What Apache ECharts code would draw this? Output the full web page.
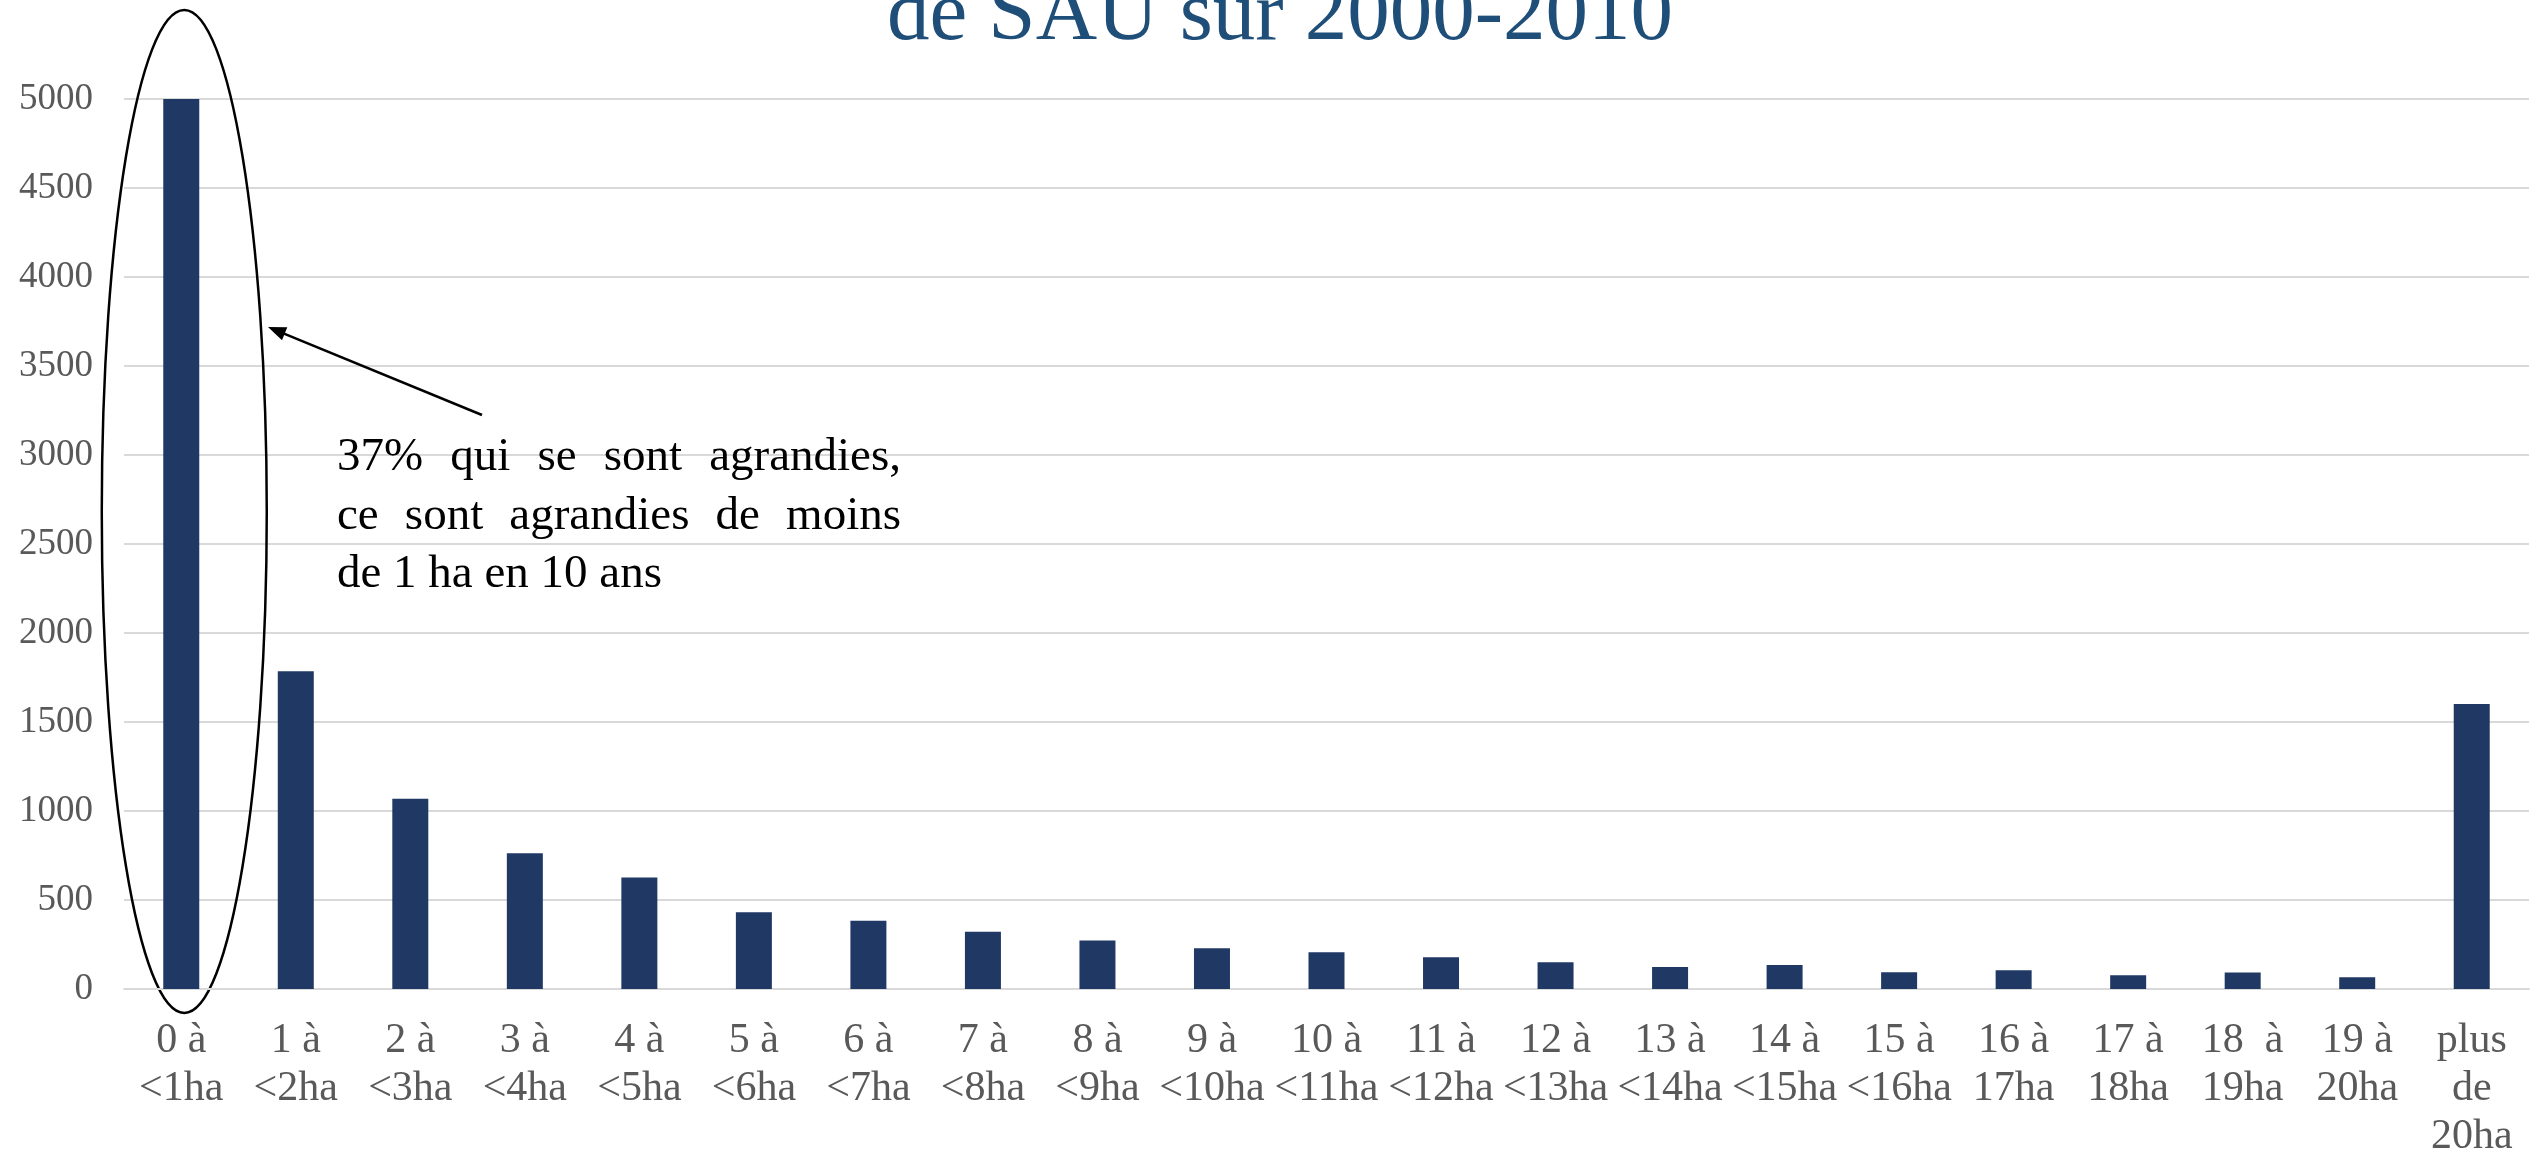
<!DOCTYPE html>
<html><head><meta charset="utf-8">
<script src="https://cdn.jsdelivr.net/npm/echarts@6/dist/echarts.min.js"></script>
<style>html,body{margin:0;padding:0;background:#fff}#c{width:2534px;height:1156px}</style>
</head><body><div id="c"></div>
<script>
// ---- data ----
const categories = ['0 à\n<1ha','1 à\n<2ha','2 à\n<3ha','3 à\n<4ha','4 à\n<5ha','5 à\n<6ha','6 à\n<7ha','7 à\n<8ha','8 à\n<9ha','9 à\n<10ha','10 à\n<11ha','11 à\n<12ha','12 à\n<13ha','13 à\n<14ha','14 à\n<15ha','15 à\n<16ha','16 à\n17ha','17 à\n18ha','18  à\n19ha','19 à\n20ha','plus\nde\n20ha'];
const values = [5000,1785,1069,762,627,431,384,322,273,229,206,178,150,124,135,94,105,77,92,66,1601];
const yMin = 0, yMax = 5000, yInterval = 500;
const titleText = 'de SAU sur 2000-2010';
const noteLines = ['37% qui se sont agrandies,', 'ce sont agrandies de moins', 'de 1 ha en 10 ans'];

const FONT = '"Liberation Serif","Times New Roman",serif';
const chart = echarts.init(document.getElementById('c'), null, {renderer:'canvas'});
chart.setOption({
  animation:false,
  backgroundColor:'#ffffff',
  grid:{left:124,right:5,top:99,bottom:167,containLabel:false,outerBoundsMode:'none'},
  xAxis:{type:'category',data:categories,
    axisLine:{lineStyle:{color:'#d9d9d9',width:2}},
    axisTick:{show:false},
    axisLabel:{interval:0,margin:28,color:'#595959',fontFamily:FONT,fontSize:42,lineHeight:48,align:'center'}
  },
  yAxis:{type:'value',min:yMin,max:yMax,interval:yInterval,
    axisLine:{show:false},axisTick:{show:false},
    axisLabel:{margin:31,color:'#595959',fontFamily:FONT,fontSize:37,formatter:v=>String(v)},
    splitLine:{lineStyle:{color:'#d9d9d9',width:2}}
  },
  series:[{type:'bar',data:values,barWidth:36,itemStyle:{color:'#203864'}}]
});

// ---- annotations ----
const ctx = document.createElement('canvas').getContext('2d');
const noteFont = 47;
ctx.font = noteFont + 'px "Liberation Serif"';
const noteLeft = 337, noteRight = 901, noteBase = [472, 530.5, 589];
const midOff = 0.305 * noteFont;
const g = [];
noteLines.forEach((line, i) => {
  const y = noteBase[i] - midOff;
  if (i < 2) {
    const words = line.split(' ');
    const ws = words.map(w => ctx.measureText(w).width);
    const sum = ws.reduce((a,b)=>a+b,0);
    const gap = (noteRight - noteLeft - sum) / (words.length - 1);
    let x = noteLeft;
    words.forEach((w, k) => {
      g.push({type:'text',x:x,y:y,style:{text:w,fill:'#000',font:noteFont+'px '+FONT,textAlign:'left',verticalAlign:'middle'}});
      x += ws[k] + gap;
    });
  } else {
    g.push({type:'text',x:noteLeft,y:y,style:{text:line,fill:'#000',font:noteFont+'px '+FONT,textAlign:'left',verticalAlign:'middle'}});
  }
});
// title (second line of a two-line title, cut at the top)
g.push({type:'text',x:1280,y:17,style:{text:titleText,fill:'#1f4e79',font:'85px '+FONT,textAlign:'center',verticalAlign:'middle'}});
// ellipse around first bar
const c0 = chart.convertToPixel({xAxisIndex:0,yAxisIndex:0},[0, 2683]);
g.push({type:'ellipse',shape:{cx:c0[0]+3,cy:c0[1],rx:82.5,ry:501.5},style:{fill:'none',stroke:'#000',lineWidth:2.5}});
// arrow
const tail=[482,415], tip=[268,327];
const dx=tip[0]-tail[0], dy=tip[1]-tail[1], L=Math.hypot(dx,dy), ux=dx/L, uy=dy/L;
const hl=18, hw=7;
const bx=tip[0]-ux*hl, by=tip[1]-uy*hl;
g.push({type:'line',shape:{x1:tail[0],y1:tail[1],x2:bx+ux*2,y2:by+uy*2},style:{stroke:'#000',lineWidth:2.5}});
g.push({type:'polygon',shape:{points:[tip,[bx-uy*hw,by+ux*hw],[bx+uy*hw,by-ux*hw]]},style:{fill:'#000'}});
chart.setOption({graphic:g});
</script></body></html>
